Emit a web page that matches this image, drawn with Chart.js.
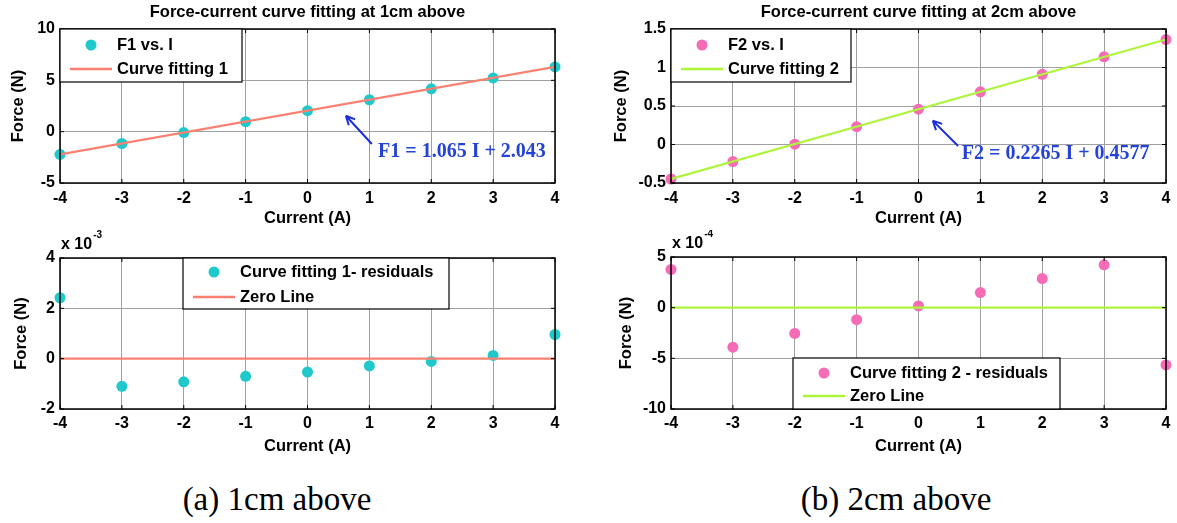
<!DOCTYPE html>
<html>
<head>
<meta charset="utf-8">
<script src="https://cdn.jsdelivr.net/npm/chart.js@4.4.0/dist/chart.umd.min.js"></script>
<style>
  html, body { margin: 0; padding: 0; background: #fff; }
  body { width: 1177px; height: 523px; position: relative; overflow: hidden; }
  canvas { position: absolute; }
  .caption { position: absolute; top: 483px; font-family: 'Liberation Serif', serif; font-size: 33px; line-height: 33px; color: #000; transform: translateX(-50%); white-space: nowrap; }
</style>
</head>
<body>
<canvas id="fit1" width="590" height="230" style="left:0;top:0"></canvas>
<canvas id="fit2" width="587" height="230" style="left:590px;top:0"></canvas>
<canvas id="res1" width="590" height="230" style="left:0;top:230px"></canvas>
<canvas id="res2" width="587" height="230" style="left:590px;top:230px"></canvas>
<div class="caption" style="left:277px">(a) 1cm above</div>
<div class="caption" style="left:896px">(b) 2cm above</div>
<script>
// measured data, current in A, force in N
var current = [-4, -3, -2, -1, 0, 1, 2, 3, 4];
var force1 = [-2.215, -1.153, -0.088, 0.977, 2.043, 3.108, 4.173, 5.238, 6.304];
var force2 = [-0.448, -0.222, 0.004, 0.231, 0.458, 0.684, 0.911, 1.138, 1.363];
var resid1 = [2.42, -1.10, -0.92, -0.70, -0.53, -0.29, -0.11, 0.13, 0.96];   // x 10^-3
var resid2 = [3.77, -3.90, -2.54, -1.19, 0.17, 1.49, 2.87, 4.23, -5.65];    // x 10^-4

// fitted lines (end points)
var fitRange = [-4, 4];
var fit1 = [-2.217, 6.303];
var fit2 = [-0.448, 1.364];
var zeroLine = [0, 0];

// ticks
var xTicks = [-4, -3, -2, -1, 0, 1, 2, 3, 4];
var yTicks1 = [-5, 0, 5, 10];
var yTicks2 = [-0.5, 0, 0.5, 1, 1.5];
var yTicks3 = [-2, 0, 2, 4];
var yTicks4 = [-10, -5, 0, 5];

var cyan = '#1fc9cb';
var salmon = '#fa8072';
var pink = '#f56bb5';
var lime = '#adf53a';
var FONT = "'Liberation Sans', Arial, sans-serif";

function toPoints(xs, ys) {
    return xs.map(function (x, i) { return { x: x, y: ys[i] }; });
}

function drawExtras(chart, cfg) {
    var ctx = chart.ctx;
    var a = chart.chartArea;
    var xs = chart.scales.x, ys = chart.scales.y;
    ctx.save();

    // axes box + small inward ticks
    ctx.strokeStyle = '#000';
    ctx.lineWidth = 1.5;
    ctx.strokeRect(a.left, a.top, a.right - a.left, a.bottom - a.top);
    ctx.lineWidth = 1;
    ctx.beginPath();
    xTicks.forEach(function (v) {
        var px = xs.getPixelForValue(v);
        ctx.moveTo(px, a.top); ctx.lineTo(px, a.top + 4);
        ctx.moveTo(px, a.bottom); ctx.lineTo(px, a.bottom - 4);
    });
    cfg.yTicks.forEach(function (v) {
        var py = ys.getPixelForValue(v);
        ctx.moveTo(a.left, py); ctx.lineTo(a.left + 4, py);
        ctx.moveTo(a.right, py); ctx.lineTo(a.right - 4, py);
    });
    ctx.stroke();

    // title
    if (cfg.title) {
        ctx.fillStyle = '#000';
        ctx.font = 'bold 16.5px ' + FONT;
        ctx.textAlign = 'center';
        ctx.textBaseline = 'middle';
        ctx.fillText(cfg.title, (a.left + a.right) / 2, 12);
    }

    // exponent label
    if (cfg.exponent) {
        ctx.fillStyle = '#000';
        ctx.textAlign = 'left';
        ctx.textBaseline = 'middle';
        ctx.font = 'bold 16px ' + FONT;
        ctx.fillText('x 10', a.left + 1, a.top - 13);
        var w = ctx.measureText('x 10').width;
        ctx.font = 'bold 10px ' + FONT;
        ctx.fillText(cfg.exponent, a.left + 2 + w, a.top - 23);
    }

    // arrow annotation
    if (cfg.note) {
        var n = cfg.note;
        var tx = xs.getPixelForValue(n.tail[0]), ty = ys.getPixelForValue(n.tail[1]);
        var hx = xs.getPixelForValue(n.tip[0]), hy = ys.getPixelForValue(n.tip[1]);
        var ang = Math.atan2(hy - ty, hx - tx);
        ctx.strokeStyle = '#1b2ee0';
        ctx.lineWidth = 2;
        ctx.beginPath();
        ctx.moveTo(tx, ty); ctx.lineTo(hx, hy);
        [-1, 1].forEach(function (s) {
            ctx.moveTo(hx, hy);
            ctx.lineTo(hx - 10 * Math.cos(ang + s * 0.45), hy - 10 * Math.sin(ang + s * 0.45));
        });
        ctx.stroke();
        ctx.fillStyle = '#2443d6';
        ctx.font = "bold 20px 'Liberation Serif', serif";
        ctx.textAlign = 'left';
        ctx.textBaseline = 'middle';
        ctx.fillText(n.text, xs.getPixelForValue(n.at[0]), ys.getPixelForValue(n.at[1]));
    }

    // legend box
    var lg = cfg.legend;
    var ds = chart.data.datasets;
    var bx = a.left + lg.x, by = a.top + lg.y;
    ctx.fillStyle = '#fff';
    ctx.fillRect(bx, by, lg.w, lg.h);
    ctx.strokeStyle = '#000';
    ctx.lineWidth = 1.2;
    ctx.strokeRect(bx, by, lg.w, lg.h);
    ctx.fillStyle = ds[0].backgroundColor;
    ctx.beginPath();
    ctx.arc(bx + 31, by + lg.row1, 5.5, 0, 2 * Math.PI);
    ctx.fill();
    ctx.strokeStyle = ds[1].borderColor;
    ctx.lineWidth = 2.5;
    ctx.beginPath();
    ctx.moveTo(bx + 10, by + lg.row2); ctx.lineTo(bx + 52, by + lg.row2);
    ctx.stroke();
    ctx.fillStyle = '#000';
    ctx.font = 'bold 16.5px ' + FONT;
    ctx.textAlign = 'left';
    ctx.textBaseline = 'middle';
    ctx.fillText(ds[0].label, bx + 57, by + lg.row1);
    ctx.fillText(ds[1].label, bx + 57, by + lg.row2);
    ctx.restore();
}

function makeChart(id, cfg) {
    var tickFont = { family: FONT, size: 16, weight: 'bold' };
    var titleFont = { family: FONT, size: 16.5, weight: 'bold' };
    return new Chart(document.getElementById(id), {
        type: 'scatter',
        data: {
            datasets: [{
                label: cfg.pointLabel,
                data: toPoints(current, cfg.ys),
                backgroundColor: cfg.pointColor,
                borderColor: cfg.pointColor,
                pointRadius: 5.5,
                borderWidth: 0,
                clip: false,
                order: 1
            }, {
                label: cfg.lineLabel,
                data: toPoints(fitRange, cfg.line),
                showLine: true,
                borderColor: cfg.lineColor,
                backgroundColor: cfg.lineColor,
                borderWidth: 2.2,
                pointRadius: 0,
                order: 0
            }]
        },
        options: {
            responsive: false,
            animation: false,
            events: [],
            layout: { padding: cfg.pad },
            plugins: { legend: { display: false }, tooltip: { enabled: false } },
            scales: {
                x: {
                    type: 'linear', min: -4, max: 4,
                    afterBuildTicks: function (s) { s.ticks = xTicks.map(function (v) { return { value: v }; }); },
                    afterFit: function (s) { s.height = cfg.xAxisH; },
                    ticks: { font: tickFont, color: '#000', padding: cfg.xTickPad, maxRotation: 0,
                             callback: function (v) { return String(v); } },
                    grid: { color: '#a0a0a0', lineWidth: 1, drawTicks: false },
                    border: { display: false },
                    title: { display: true, text: 'Current (A)', color: '#000', font: titleFont,
                             padding: { top: 0, bottom: cfg.xTitlePad } }
                },
                y: {
                    type: 'linear', min: cfg.yTicks[0], max: cfg.yTicks[cfg.yTicks.length - 1],
                    afterBuildTicks: function (s) { s.ticks = cfg.yTicks.map(function (v) { return { value: v }; }); },
                    afterFit: function (s) { s.width = cfg.yAxisW; },
                    ticks: { font: tickFont, color: '#000', padding: 5,
                             callback: function (v) { return String(v); } },
                    grid: { color: '#a0a0a0', lineWidth: 1, drawTicks: false },
                    border: { display: false },
                    title: { display: true, text: 'Force (N)', color: '#000', font: titleFont,
                             padding: { top: cfg.yTitlePad, bottom: 0 } }
                }
            }
        },
        plugins: [{ id: 'extras', afterDatasetsDraw: function (chart) { drawExtras(chart, cfg); } }]
    });
}

makeChart('fit1', {
    title: 'Force-current curve fitting at 1cm above',
    ys: force1, line: fit1, yTicks: yTicks1,
    pointLabel: 'F1 vs. I', lineLabel: 'Curve fitting 1',
    pointColor: cyan, lineColor: salmon,
    pad: { left: 0, top: 29, right: 35, bottom: 0 },
    yAxisW: 60, xAxisH: 47, xTickPad: 6, xTitlePad: 2, yTitlePad: 9,
    legend: { x: 0, y: 0, w: 182, h: 53, row1: 16, row2: 40 },
    note: { text: 'F1 = 1.065 I + 2.043', tip: [0.62, 1.55], tail: [1.04, -1.2], at: [1.14, -1.98] }
});

makeChart('fit2', {
    title: 'Force-current curve fitting at 2cm above',
    ys: force2, line: fit2, yTicks: yTicks2,
    pointLabel: 'F2 vs. I', lineLabel: 'Curve fitting 2',
    pointColor: pink, lineColor: lime,
    pad: { left: 0, top: 29, right: 11, bottom: 0 },
    yAxisW: 81, xAxisH: 47, xTickPad: 6, xTitlePad: 2, yTitlePad: 22,
    legend: { x: 0, y: 0, w: 180, h: 53, row1: 16, row2: 40 },
    note: { text: 'F2 = 0.2265 I + 0.4577', tip: [0.23, 0.31], tail: [0.64, -0.02], at: [0.70, -0.12] }
});

makeChart('res1', {
    exponent: '-3',
    ys: resid1, line: zeroLine, yTicks: yTicks3,
    pointLabel: 'Curve fitting 1- residuals', lineLabel: 'Zero Line',
    pointColor: cyan, lineColor: salmon,
    pad: { left: 0, top: 28, right: 35, bottom: 0 },
    yAxisW: 60, xAxisH: 51, xTickPad: 5, xTitlePad: 4, yTitlePad: 12,
    legend: { x: 123, y: 0, w: 266, h: 51, row1: 14, row2: 39 }
});

makeChart('res2', {
    exponent: '-4',
    ys: resid2, line: zeroLine, yTicks: yTicks4,
    pointLabel: 'Curve fitting 2 - residuals', lineLabel: 'Zero Line',
    pointColor: pink, lineColor: lime,
    pad: { left: 0, top: 27, right: 11, bottom: 0 },
    yAxisW: 81, xAxisH: 51, xTickPad: 5, xTitlePad: 4, yTitlePad: 27,
    legend: { x: 122, y: 101, w: 267, h: 51, row1: 15, row2: 38 }
});
</script>
</body>
</html>
